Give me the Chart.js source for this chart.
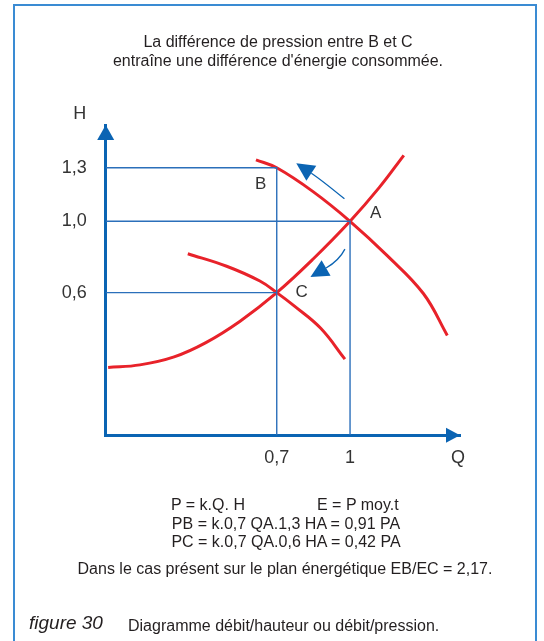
<!DOCTYPE html>
<html>
<head>
<meta charset="utf-8">
<script src="https://cdn.jsdelivr.net/npm/chart.js@4/dist/chart.umd.min.js"></script>
<style>
  body { margin: 0; background: #fff; }
  #page { position: relative; width: 544px; height: 641px; overflow: hidden;
          font-family: "Liberation Sans", Arial, sans-serif; color: #231f20; }
  #frame { position: absolute; left: 13px; top: 4px; width: 524px; height: 700px;
           border: 2px solid #3a8bd3; box-sizing: border-box; }
  #chart { position: absolute; left: 0; top: 0; }
  .txt { position: absolute; font-size: 16px; line-height: 19px; white-space: nowrap; }
  .center { text-align: center; }
</style>
</head>
<body>
<div id="page">
  <div id="frame"></div>
  <canvas id="chart" width="544" height="641"></canvas>

  <div class="txt center" style="left:78px;width:400px;top:32px">La différence de pression entre B et C</div>
  <div class="txt center" style="left:78px;width:400px;top:51px">entraîne une différence d'énergie consommée.</div>

  <div class="txt" style="left:171px;top:495px">P = k.Q. H</div>
  <div class="txt" style="left:317px;top:495px">E = P moy.t</div>
  <div class="txt center" style="left:86px;width:400px;top:514px">PB = k.0,7 QA.1,3 HA = 0,91 PA</div>
  <div class="txt center" style="left:86px;width:400px;top:532px">PC = k.0,7 QA.0,6 HA = 0,42 PA</div>
  <div class="txt center" style="left:35px;width:500px;top:559px">Dans le cas présent sur le plan énergétique EB/EC = 2,17.</div>

  <div class="txt" style="left:29px;top:611px;font-size:19px;line-height:24px;font-style:italic">figure 30</div>
  <div class="txt" style="left:128px;top:616px">Diagramme débit/hauteur ou débit/pression.</div>
</div>

<script>
/* =========================
   DATA
========================= */
const Q_TICKS = [0.7, 1];
const H_TICKS = [0.6, 1.0, 1.3];
const Q_MAX = 1.45;
const H_MIN = -0.2;
const H_MAX = 1.54;

// network (system) curve
const systemQ = [0.01, 0.14, 0.28, 0.41, 0.55, 0.70, 0.85, 1.00, 1.12, 1.22];
const systemH = [0.18, 0.195, 0.24, 0.32, 0.44, 0.60, 0.79, 1.00, 1.19, 1.37];

// pump curve through B and A
const pumpHighQ = [0.615, 0.70, 0.85, 1.00, 1.15, 1.30, 1.398];
const pumpHighH = [1.345, 1.30, 1.165, 1.00, 0.81, 0.595, 0.36];

// pump curve through C
const pumpLowQ = [0.336, 0.495, 0.631, 0.70, 0.77, 0.88, 0.979];
const pumpLowH = [0.818, 0.748, 0.665, 0.60, 0.527, 0.40, 0.227];

// reading lines (B, A, C)
const guideBQ = [0, 0.7, 0.7];
const guideBH = [1.3, 1.3, H_MIN];
const guideAQ = [0, 1, 1];
const guideAH = [1.0, 1.0, H_MIN];
const guideCQ = [0, 0.7];
const guideCH = [0.6, 0.6];

// point names
const pointNames = ["A", "B", "C"];
const pointQ = [1.105, 0.634, 0.802];
const pointH = [1.042, 1.21, 0.603];

// curved arrows: tail, control, tip
const arrowQ = [[0.977, 0.88, 0.78], [0.979, 0.955, 0.838]];
const arrowH = [[1.126, 1.235, 1.325], [0.844, 0.78, 0.688]];

/* =========================
   STYLE
========================= */
const RED = "#e8222a";
const AXIS_BLUE = "#0b64b3";
const GUIDE_BLUE = "#2b6fba";
const FONT = "'Liberation Sans', Arial, sans-serif";
const TEXT = "#333333";

const pts = (xs, ys) => xs.map((x, i) => ({ x: x, y: ys[i] }));
const fmt = v => String(v).replace(".", ",");

const curve = (xs, ys) => ({
  data: pts(xs, ys),
  borderColor: RED,
  borderWidth: 3,
  pointRadius: 0,
  tension: 0.4,
  fill: false
});
const guide = (xs, ys) => ({
  data: pts(xs, ys),
  borderColor: GUIDE_BLUE,
  borderWidth: 1.4,
  pointRadius: 0,
  tension: 0,
  fill: false
});

/* =========================
   DECORATIONS
========================= */
const decorations = {
  id: "decorations",
  afterDatasetsDraw(chart) {
    const ctx = chart.ctx;
    const xs = chart.scales.x, ys = chart.scales.y;
    const a = chart.chartArea;

    ctx.save();
    // A, B, C
    ctx.fillStyle = TEXT;
    ctx.font = "17px " + FONT;
    ctx.textAlign = "center";
    ctx.textBaseline = "middle";
    pointNames.forEach((n, i) => {
      ctx.fillText(n, xs.getPixelForValue(pointQ[i]), ys.getPixelForValue(pointH[i]));
    });

    // curved arrows
    ctx.strokeStyle = AXIS_BLUE;
    ctx.fillStyle = AXIS_BLUE;
    ctx.lineWidth = 1.3;
    arrowQ.forEach((q, i) => {
      const h = arrowH[i];
      const p0 = [xs.getPixelForValue(q[0]), ys.getPixelForValue(h[0])];
      const p1 = [xs.getPixelForValue(q[1]), ys.getPixelForValue(h[1])];
      const p2 = [xs.getPixelForValue(q[2]), ys.getPixelForValue(h[2])];
      const ang = Math.atan2(p2[1] - p1[1], p2[0] - p1[0]);
      const len = 18, half = 9;
      const base = [p2[0] - len * Math.cos(ang), p2[1] - len * Math.sin(ang)];
      ctx.beginPath();
      ctx.moveTo(p0[0], p0[1]);
      ctx.quadraticCurveTo(p1[0], p1[1], base[0], base[1]);
      ctx.stroke();
      ctx.beginPath();
      ctx.moveTo(p2[0], p2[1]);
      ctx.lineTo(base[0] + half * Math.sin(ang), base[1] - half * Math.cos(ang));
      ctx.lineTo(base[0] - half * Math.sin(ang), base[1] + half * Math.cos(ang));
      ctx.closePath();
      ctx.fill();
    });

    // axis arrow heads
    ctx.beginPath();
    ctx.moveTo(a.left, a.top);
    ctx.lineTo(a.left - 8.5, a.top + 15);
    ctx.lineTo(a.left + 8.5, a.top + 15);
    ctx.closePath();
    ctx.fill();
    ctx.beginPath();
    ctx.moveTo(a.right, a.bottom);
    ctx.lineTo(a.right - 14, a.bottom - 7.5);
    ctx.lineTo(a.right - 14, a.bottom + 7.5);
    ctx.closePath();
    ctx.fill();

    // axis names
    ctx.fillStyle = TEXT;
    ctx.font = "18px " + FONT;
    ctx.fillText("H", a.left - 26, a.top - 11);
    ctx.fillText("Q", a.right - 2, a.bottom + 23);
    ctx.restore();
  }
};

/* =========================
   CHART
========================= */
new Chart(document.getElementById("chart"), {
  type: "line",
  data: {
    datasets: [
      guide(guideBQ, guideBH),
      guide(guideAQ, guideAH),
      guide(guideCQ, guideCH),
      curve(systemQ, systemH),
      curve(pumpHighQ, pumpHighH),
      curve(pumpLowQ, pumpLowH)
    ]
  },
  options: {
    responsive: false,
    animation: false,
    layout: { padding: { left: 0, top: 125, right: 84, bottom: 165.7 } },
    plugins: { legend: { display: false }, tooltip: { enabled: false } },
    scales: {
      x: {
        type: "linear",
        min: 0,
        max: Q_MAX,
        afterFit: s => { s.height = 40; },
        afterBuildTicks: s => { s.ticks = Q_TICKS.map(v => ({ value: v })); },
        grid: { display: false, drawTicks: false },
        border: { display: true, color: AXIS_BLUE, width: 3 },
        ticks: {
          padding: 12,
          color: TEXT,
          font: { family: FONT, size: 18 },
          callback: v => fmt(v)
        }
      },
      y: {
        type: "linear",
        min: H_MIN,
        max: H_MAX,
        afterFit: s => { s.width = 105.7; },
        afterBuildTicks: s => { s.ticks = H_TICKS.map(v => ({ value: v })); },
        grid: { display: false, drawTicks: false },
        border: { display: true, color: AXIS_BLUE, width: 3 },
        ticks: {
          padding: 19,
          color: TEXT,
          font: { family: FONT, size: 18 },
          callback: v => fmt(v.toFixed(1))
        }
      }
    }
  },
  plugins: [decorations]
});
</script>
</body>
</html>
